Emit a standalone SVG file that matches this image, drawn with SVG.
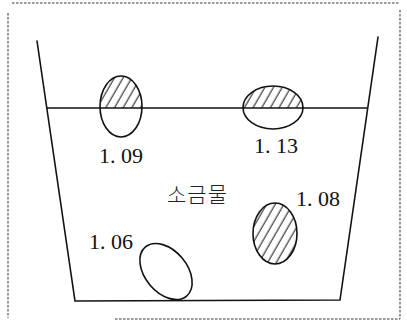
<svg xmlns="http://www.w3.org/2000/svg" width="407" height="323" viewBox="0 0 407 323">
<style>
.frame{fill:none;stroke:#333;stroke-width:1;stroke-dasharray:2.5 1.5}
.wall{fill:none;stroke:#111;stroke-width:1.6;stroke-linecap:round}
.water{fill:none;stroke:#111;stroke-width:1.3}
.egg{fill:none;stroke:#111;stroke-width:1.6}
.hatch{fill:url(#h);stroke:none}
.lbl{font-family:"Liberation Serif","Times New Roman",serif;font-size:22px;fill:#111}
.kr{font-family:"Noto Sans CJK KR","Noto Sans",sans-serif;font-size:21px;font-weight:300;letter-spacing:1px;fill:#222}
</style>
<defs>
<pattern id="h" patternUnits="userSpaceOnUse" width="7.5" height="7.5" patternTransform="rotate(30)">
<line x1="3" y1="0" x2="3" y2="7.5" stroke="#111" stroke-width="1"/>
</pattern>
</defs>
<rect width="407" height="323" fill="#fff"/>
<g id="frame">
<line class="frame" x1="12" y1="3" x2="400" y2="3"/>
<line class="frame" x1="8" y1="13" x2="8" y2="318"/>
<line class="frame" x1="400" y1="10" x2="400" y2="319"/>
<line class="frame" x1="115" y1="319" x2="400" y2="319"/>
</g>
<g id="container">
<polyline class="wall" points="37,41 75,301 340,300 378,37"/>
<line class="water" x1="47" y1="108" x2="367" y2="108"/>
</g>
<g id="egg109">
<path class="hatch" d="M100.03,108 A21,30.5 0 1 1 141.97,108 Z"/>
<ellipse class="egg" cx="121" cy="106.5" rx="21" ry="30.5"/>
<text class="lbl" x="99" y="163">1. 09</text>
</g>
<g id="egg113">
<path class="hatch" d="M243,108 A30,21.5 0 1 1 303,108 Z"/>
<ellipse class="egg" cx="273" cy="107.5" rx="30" ry="21.5"/>
<text class="lbl" x="254" y="153">1. 13</text>
</g>
<g id="egg108">
<ellipse class="hatch" cx="275" cy="233.5" rx="22" ry="30.5"/>
<ellipse class="egg" cx="275" cy="233.5" rx="22" ry="30.5"/>
<text class="lbl" x="296" y="206">1. 08</text>
</g>
<g id="egg106">
<ellipse class="egg" cx="166" cy="271.5" rx="21" ry="32" transform="rotate(-40 166 271.5)"/>
<text class="lbl" x="89" y="249">1. 06</text>
</g>
<g id="label">
<text class="kr" x="167" y="202">소금물</text>
</g>
</svg>
